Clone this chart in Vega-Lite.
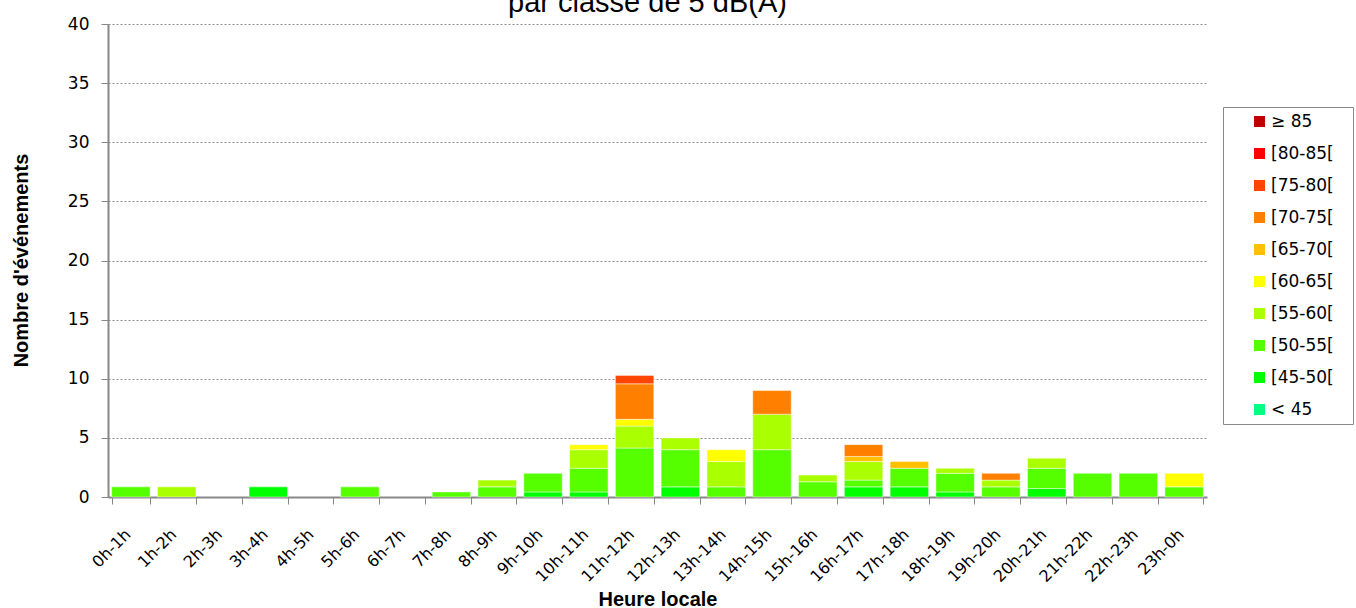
{
  "$schema": "https://vega.github.io/schema/vega-lite/v6.json",
  "autosize": {"type": "none"},
  "width": 1099,
  "height": 473,
  "padding": {"left": 108, "top": 24, "right": 149, "bottom": 111},
  "background": "white",
  "title": {
    "text": "par classe de 5 dB(A)",
    "anchor": "middle",
    "frame": "group",
    "font": "Liberation Sans",
    "fontSize": 29,
    "fontWeight": "normal",
    "color": "#000000",
    "baseline": "alphabetic",
    "offset": 3,
    "dx": -10,
    "dy": 29
  },
  "config": {
    "view": {"stroke": null},
    "axis": {"labelColor": "#000000", "titleColor": "#000000"}
  },
  "data": {
    "values": [
      {"h": "0h-1h", "c": "[50-55[", "k": 2, "v": 0.857},
      {"h": "1h-2h", "c": "[55-60[", "k": 3, "v": 0.857},
      {"h": "3h-4h", "c": "[45-50[", "k": 1, "v": 0.857},
      {"h": "5h-6h", "c": "[50-55[", "k": 2, "v": 0.857},
      {"h": "7h-8h", "c": "[50-55[", "k": 2, "v": 0.429},
      {"h": "8h-9h", "c": "[50-55[", "k": 2, "v": 0.857},
      {"h": "8h-9h", "c": "[55-60[", "k": 3, "v": 0.571},
      {"h": "9h-10h", "c": "[45-50[", "k": 1, "v": 0.429},
      {"h": "9h-10h", "c": "[50-55[", "k": 2, "v": 1.571},
      {"h": "10h-11h", "c": "[45-50[", "k": 1, "v": 0.429},
      {"h": "10h-11h", "c": "[50-55[", "k": 2, "v": 2.0},
      {"h": "10h-11h", "c": "[55-60[", "k": 3, "v": 1.571},
      {"h": "10h-11h", "c": "[60-65[", "k": 4, "v": 0.429},
      {"h": "11h-12h", "c": "[50-55[", "k": 2, "v": 4.143},
      {"h": "11h-12h", "c": "[55-60[", "k": 3, "v": 1.857},
      {"h": "11h-12h", "c": "[60-65[", "k": 4, "v": 0.571},
      {"h": "11h-12h", "c": "[70-75[", "k": 6, "v": 3.0},
      {"h": "11h-12h", "c": "[75-80[", "k": 7, "v": 0.714},
      {"h": "12h-13h", "c": "[45-50[", "k": 1, "v": 0.857},
      {"h": "12h-13h", "c": "[50-55[", "k": 2, "v": 3.143},
      {"h": "12h-13h", "c": "[55-60[", "k": 3, "v": 1.0},
      {"h": "13h-14h", "c": "[50-55[", "k": 2, "v": 0.857},
      {"h": "13h-14h", "c": "[55-60[", "k": 3, "v": 2.143},
      {"h": "13h-14h", "c": "[60-65[", "k": 4, "v": 1.0},
      {"h": "14h-15h", "c": "[50-55[", "k": 2, "v": 4.0},
      {"h": "14h-15h", "c": "[55-60[", "k": 3, "v": 3.0},
      {"h": "14h-15h", "c": "[70-75[", "k": 6, "v": 2.0},
      {"h": "15h-16h", "c": "[50-55[", "k": 2, "v": 1.286},
      {"h": "15h-16h", "c": "[55-60[", "k": 3, "v": 0.571},
      {"h": "16h-17h", "c": "[45-50[", "k": 1, "v": 0.857},
      {"h": "16h-17h", "c": "[50-55[", "k": 2, "v": 0.571},
      {"h": "16h-17h", "c": "[55-60[", "k": 3, "v": 1.571},
      {"h": "16h-17h", "c": "[65-70[", "k": 5, "v": 0.429},
      {"h": "16h-17h", "c": "[70-75[", "k": 6, "v": 1.0},
      {"h": "17h-18h", "c": "[45-50[", "k": 1, "v": 0.857},
      {"h": "17h-18h", "c": "[50-55[", "k": 2, "v": 1.571},
      {"h": "17h-18h", "c": "[65-70[", "k": 5, "v": 0.571},
      {"h": "18h-19h", "c": "[45-50[", "k": 1, "v": 0.429},
      {"h": "18h-19h", "c": "[50-55[", "k": 2, "v": 1.571},
      {"h": "18h-19h", "c": "[55-60[", "k": 3, "v": 0.429},
      {"h": "19h-20h", "c": "[50-55[", "k": 2, "v": 0.857},
      {"h": "19h-20h", "c": "[55-60[", "k": 3, "v": 0.571},
      {"h": "19h-20h", "c": "[70-75[", "k": 6, "v": 0.571},
      {"h": "20h-21h", "c": "[45-50[", "k": 1, "v": 0.714},
      {"h": "20h-21h", "c": "[50-55[", "k": 2, "v": 1.714},
      {"h": "20h-21h", "c": "[55-60[", "k": 3, "v": 0.857},
      {"h": "21h-22h", "c": "[50-55[", "k": 2, "v": 2.0},
      {"h": "22h-23h", "c": "[50-55[", "k": 2, "v": 2.0},
      {"h": "23h-0h", "c": "[50-55[", "k": 2, "v": 0.857},
      {"h": "23h-0h", "c": "[60-65[", "k": 4, "v": 1.143}
    ]
  },
  "mark": {"type": "bar", "stroke": "#ffffff", "strokeWidth": 1, "strokeOpacity": 0.45},
  "encoding": {
    "x": {
      "field": "h",
      "type": "nominal",
      "sort": null,
      "scale": {
        "domain": ["0h-1h","1h-2h","2h-3h","3h-4h","4h-5h","5h-6h","6h-7h","7h-8h","8h-9h","9h-10h","10h-11h","11h-12h","12h-13h","13h-14h","14h-15h","15h-16h","16h-17h","17h-18h","18h-19h","19h-20h","20h-21h","21h-22h","22h-23h","23h-0h"],
        "paddingInner": 0.16,
        "paddingOuter": 0.08
      },
      "axis": {
        "title": "Heure locale",
        "titleFont": "Liberation Sans",
        "titleFontSize": 20,
        "titleFontWeight": "bold",
        "titleBaseline": "alphabetic",
        "titleY": 108,
        "labelAngle": -45,
        "labelAlign": "right",
        "labelBaseline": "top",
        "labelFont": "DejaVu Sans",
        "labelFontSize": 16,
        "labelPadding": 22,
        "labelOffset": -9,
        "tickBand": "extent",
        "tickSize": 7,
        "tickColor": "#888888",
        "domainColor": "#888888",
        "domainWidth": 2,
        "grid": false
      }
    },
    "y": {
      "field": "v",
      "type": "quantitative",
      "aggregate": "sum",
      "stack": "zero",
      "scale": {"domain": [0, 40], "nice": false},
      "axis": {
        "title": "Nombre d'événements",
        "titleFont": "Liberation Sans",
        "titleFontSize": 20,
        "titleFontWeight": "bold",
        "titleBaseline": "middle",
        "titleX": -87,
        "titleY": 236,
        "values": [0, 5, 10, 15, 20, 25, 30, 35, 40],
        "labelFont": "DejaVu Sans",
        "labelFontSize": 17,
        "labelPadding": 12,
        "tickSize": 7,
        "tickColor": "#888888",
        "domainColor": "#888888",
        "domainWidth": 2,
        "grid": true,
        "gridColor": "#8c8c8c",
        "gridDash": [2, 2],
        "gridWidth": 1
      }
    },
    "color": {
      "field": "c",
      "type": "nominal",
      "scale": {
        "domain": ["≥ 85", "[80-85[", "[75-80[", "[70-75[", "[65-70[", "[60-65[", "[55-60[", "[50-55[", "[45-50[", "< 45"],
        "range": ["#C00000", "#FF0000", "#FF4500", "#FF8000", "#FFC000", "#FFFF00", "#AAFF00", "#55FF00", "#00FF00", "#00FF80"]
      },
      "legend": {
        "title": null,
        "orient": "none",
        "legendX": 1115,
        "legendY": 83,
        "padding": 6,
        "strokeColor": "#888888",
        "symbolType": "square",
        "symbolSize": 121,
        "symbolStrokeWidth": 0,
        "symbolOffset": 22,
        "labelOffset": 3,
        "rowPadding": 14,
        "labelFont": "DejaVu Sans",
        "labelFontSize": 17,
        "labelColor": "#000000",
        "labelExpr": "datum.label + '\u2800'"
      }
    },
    "order": {"field": "k", "type": "quantitative", "sort": "ascending"}
  }
}
